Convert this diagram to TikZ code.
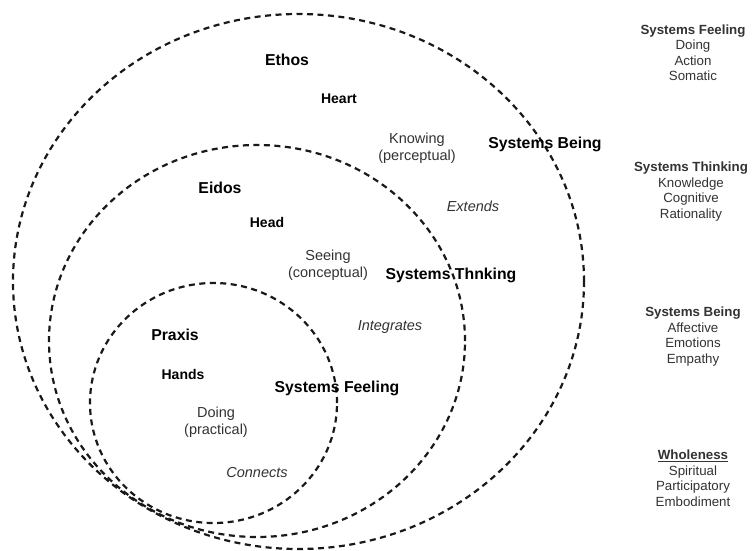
\documentclass[tikz,border=0pt]{standalone}
\usepackage{fontspec}
\setmainfont{Liberation Sans}
\begin{document}
\begin{tikzpicture}[x=1pt,y=-1pt,
  ring/.style={draw=black!90, line width=2.2pt, dash pattern=on 6pt off 4.5pt},
  bigbold/.style={font=\fontsize{15.8}{18}\selectfont\bfseries, inner sep=0pt},
  midbold/.style={font=\fontsize{14}{16}\selectfont\bfseries, inner sep=0pt},
  plain/.style={font=\fontsize{14.5}{17}\selectfont, text=black!80, align=center, inner sep=0pt},
  verb/.style={font=\fontsize{14.5}{17}\selectfont\itshape, text=black!80, inner sep=0pt},
  side/.style={font=\fontsize{13.3}{15.5}\selectfont, text=black!80, align=center, inner sep=0pt}
]
\useasboundingbox (0,0) rectangle (753,551);
\fill[white] (0,0) rectangle (753,551);

% rings
\draw[ring] (298.5,281.5) ellipse [x radius=285.5pt, y radius=267.5pt];
\draw[ring] (257,341) ellipse [x radius=208pt, y radius=196pt];
\draw[ring] (213.5,403) ellipse [x radius=123.5pt, y radius=120pt];

% outer ring labels
\node[bigbold] (ethos) at (287,60) {Ethos};
\node[midbold] (heart) at (339,99) {Heart};
\node[plain] (knowing) at (417,148.5) {Knowing\\(perceptual)};
\node[bigbold] (sbeing) at (545,144) {Systems Being};
\node[verb] (extends) at (473,206) {Extends};

% middle ring labels
\node[bigbold] (eidos) at (220,188) {Eidos};
\node[midbold] (head) at (267,222) {Head};
\node[plain] (seeing) at (328,265) {Seeing\\(conceptual)};
\node[bigbold] (sthinking) at (451,275) {Systems Thnking};
\node[verb] (integrates) at (390,327) {Integrates};

% inner ring labels
\node[bigbold] (praxis) at (175,335) {Praxis};
\node[midbold] (hands) at (183,374) {Hands};
\node[bigbold] (sfeeling) at (337,388) {Systems Feeling};
\node[plain] (doing) at (216,422) {Doing\\(practical)};
\node[verb] (connects) at (257,473) {Connects};

% right column
\node[side] (colfeeling) at (693,52.5) {\textbf{Systems Feeling}\\Doing\\Action\\Somatic};
\node[side] (colthinking) at (691,191.5) {\textbf{Systems Thinking}\\Knowledge\\Cognitive\\Rationality};
\node[side] (colbeing) at (693,336.5) {\textbf{Systems Being}\\Affective\\Emotions\\Empathy};
\node[side] (colwhole) at (693,478) {\textbf{\underline{Wholeness}}\\Spiritual\\Participatory\\Embodiment};
\end{tikzpicture}
\end{document}
